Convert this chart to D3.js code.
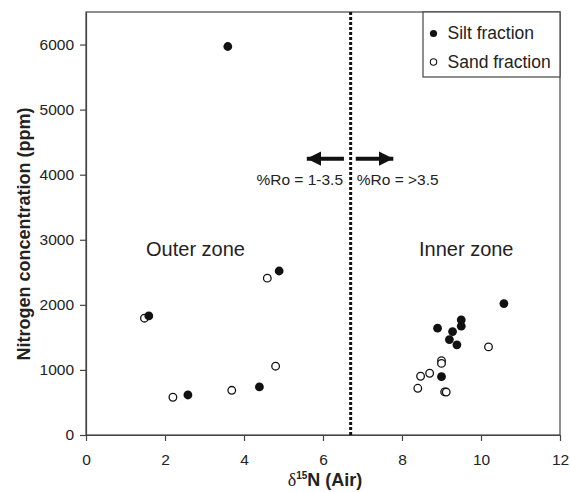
<!DOCTYPE html>
<html>
<head>
<meta charset="utf-8">
<script src="https://cdn.jsdelivr.net/npm/d3@7"></script>
<style>
  body { margin: 0; background: #fff; }
  svg { font-family: "Liberation Sans", Arial, sans-serif; }
</style>
</head>
<body>
<div id="chart"></div>
<script>
// Data
var siltX = [3.59, 4.89, 1.59, 2.58, 4.39, 10.58, 9.50, 9.50, 8.90, 9.28, 9.20, 9.39, 9.00]
var siltY = [5970, 2520, 1830, 615, 738, 2020, 1769, 1672, 1641, 1590, 1467, 1385, 897]
var sandX = [4.59, 1.48, 4.80, 2.20, 3.69, 10.19, 9.00, 9.00, 8.70, 8.47, 8.40, 9.08, 9.12]
var sandY = [2410, 1795, 1057, 580, 687, 1354, 1143, 1100, 949, 903, 718, 662, 660]
var xTicks = [0, 2, 4, 6, 8, 10, 12]
var yTicks = [0, 1000, 2000, 3000, 4000, 5000, 6000]
var legendLabels = ['Silt fraction', 'Sand fraction']
var boundaryX = 6.7
var zoneLabels = [
  { text: 'Outer zone', x: 1.52, y: 2754 },
  { text: 'Inner zone', x: 8.43, y: 2754 }
]
var roLabels = [
  { text: '%Ro = 1-3.5', x: 6.52, y: 3846, anchor: 'end' },
  { text: '%Ro = >3.5', x: 6.83, y: 3846, anchor: 'start' }
]
var roArrows = [
  { x0: 6.53, x1: 5.59, y: 4246 },
  { x0: 6.83, x1: 7.78, y: 4246 }
]

// Dimensions
var width = 570
var height = 492
var margin = { top: 12, right: 10, bottom: 57, left: 86 }
var chartWidth = width - margin.left - margin.right
var chartHeight = height - margin.top - margin.bottom
var fontSize = 15.5

var x = d3.scaleLinear().domain([0, 12]).range([0, chartWidth])
var y = d3.scaleLinear().domain([0, 6500]).range([chartHeight, 0])

var svg = d3.select('#chart').append('svg')
  .attr('width', width)
  .attr('height', height)

svg.append('rect').attr('width', width).attr('height', height).attr('fill', '#fff')

var g = svg.append('g')
  .attr('transform', 'translate(' + margin.left + ',' + margin.top + ')')

// Frame
g.append('rect')
  .attr('width', chartWidth)
  .attr('height', chartHeight)
  .attr('fill', 'none')
  .attr('stroke', '#444')
  .attr('stroke-width', 1.2)

// Axes
var xAxis = g.append('g')
  .attr('transform', 'translate(0,' + chartHeight + ')')
  .call(d3.axisBottom(x).tickValues(xTicks).tickFormat(d3.format('d'))
    .tickSize(6).tickPadding(13).tickSizeOuter(0))
var yAxis = g.append('g')
  .call(d3.axisLeft(y).tickValues(yTicks).tickFormat(d3.format('d'))
    .tickSize(6).tickPadding(6).tickSizeOuter(0))

;[xAxis, yAxis].forEach(function (a) {
  a.attr('font-size', fontSize).attr('font-family', '"Liberation Sans", Arial, sans-serif')
  a.select('.domain').attr('stroke', '#444').attr('stroke-width', 1.2)
  a.selectAll('.tick line').attr('stroke', '#444').attr('stroke-width', 1.2)
  a.selectAll('.tick text').attr('fill', '#222')
})

// Boundary line
g.append('line')
  .attr('x1', x(boundaryX)).attr('x2', x(boundaryX))
  .attr('y1', 0).attr('y2', chartHeight)
  .attr('stroke', '#111')
  .attr('stroke-width', 3)
  .attr('stroke-dasharray', '3,2')

// Arrows
var defs = svg.append('defs')
defs.append('marker')
  .attr('id', 'head')
  .attr('viewBox', '0 0 10 10')
  .attr('refX', 10).attr('refY', 5)
  .attr('markerWidth', 3.6).attr('markerHeight', 3.8)
  .attr('markerUnits', 'strokeWidth')
  .attr('orient', 'auto')
  .append('path')
  .attr('d', 'M0,0 L10,5 L0,10 Z')
  .attr('fill', '#111')

g.selectAll('.arrow')
  .data(roArrows)
  .enter().append('line')
  .attr('class', 'arrow')
  .attr('x1', function (d) { return x(d.x0) })
  .attr('x2', function (d) { return x(d.x1) })
  .attr('y1', function (d) { return y(d.y) })
  .attr('y2', function (d) { return y(d.y) })
  .attr('stroke', '#111')
  .attr('stroke-width', 4)
  .attr('marker-end', 'url(#head)')

g.selectAll('.ro')
  .data(roLabels)
  .enter().append('text')
  .attr('class', 'ro')
  .attr('x', function (d) { return x(d.x) + (d.anchor === 'end' ? -0.5 : 1) })
  .attr('y', function (d) { return y(d.y) })
  .attr('text-anchor', function (d) { return d.anchor })
  .attr('fill', '#222')
  .style('font-size', fontSize + 'px')
  .text(function (d) { return d.text })

// Zone labels
g.selectAll('.zone')
  .data(zoneLabels)
  .enter().append('text')
  .attr('class', 'zone')
  .attr('x', function (d) { return x(d.x) })
  .attr('y', function (d) { return y(d.y) })
  .attr('fill', '#222')
  .style('font-size', '20px')
  .text(function (d) { return d.text })

// Points
var sand = sandX.map(function (v, i) { return { x: v, y: sandY[i] } })
var silt = siltX.map(function (v, i) { return { x: v, y: siltY[i] } })

g.selectAll('.sand')
  .data(sand)
  .enter().append('circle')
  .attr('class', 'sand')
  .attr('cx', function (d) { return x(d.x) })
  .attr('cy', function (d) { return y(d.y) })
  .attr('r', 3.8)
  .attr('fill', '#fff')
  .attr('stroke', '#111')
  .attr('stroke-width', 1.3)

g.selectAll('.silt')
  .data(silt)
  .enter().append('circle')
  .attr('class', 'silt')
  .attr('cx', function (d) { return x(d.x) })
  .attr('cy', function (d) { return y(d.y) })
  .attr('r', 4.4)
  .attr('fill', '#111')

// Legend
var legend = g.append('g')
  .attr('transform', 'translate(' + (chartWidth - 137) + ',0)')
legend.append('rect')
  .attr('width', 137)
  .attr('height', 65)
  .attr('fill', '#fff')
  .attr('stroke', '#444')
  .attr('stroke-width', 1.2)

var items = legend.selectAll('.item')
  .data(legendLabels)
  .enter().append('g')
  .attr('class', 'item')
  .attr('transform', function (d, i) { return 'translate(0,' + (21.5 + i * 28.5) + ')' })
items.append('circle')
  .attr('cx', 10.5)
  .attr('r', function (d, i) { return i === 0 ? 3.6 : 3.2 })
  .attr('fill', function (d, i) { return i === 0 ? '#111' : '#fff' })
  .attr('stroke', '#111')
  .attr('stroke-width', function (d, i) { return i === 0 ? 0 : 1.1 })
items.append('text')
  .attr('x', 24.5)
  .attr('y', 5.5)
  .attr('fill', '#222')
  .style('font-size', '17.5px')
  .text(function (d) { return d })

// Axis titles
var xTitle = svg.append('text')
  .attr('x', margin.left + chartWidth / 2 + 2)
  .attr('y', 486)
  .attr('text-anchor', 'middle')
  .attr('fill', '#222')
  .style('font-size', '18px')
  .style('font-weight', 'bold')
xTitle.append('tspan')
  .style('font-family', '"Liberation Serif", "Times New Roman", serif')
  .style('font-weight', 'normal')
  .text('δ')
xTitle.append('tspan')
  .attr('dy', -7)
  .style('font-size', '10px')
  .text('15')
xTitle.append('tspan')
  .attr('dy', 7)
  .text('N (Air)')

svg.append('text')
  .attr('transform', 'translate(30,234) rotate(-90)')
  .attr('text-anchor', 'middle')
  .attr('fill', '#222')
  .style('font-size', '18px')
  .style('font-weight', 'bold')
  .text('Nitrogen concentration (ppm)')
</script>
</body>
</html>
